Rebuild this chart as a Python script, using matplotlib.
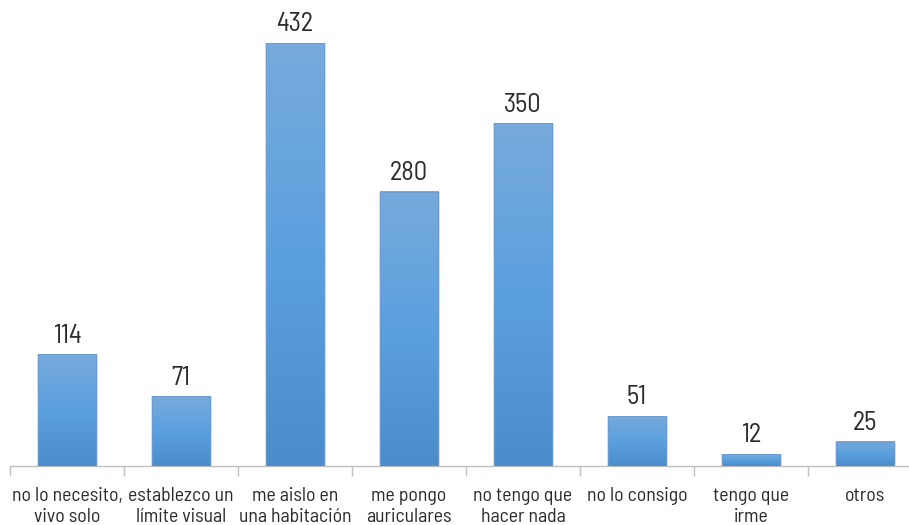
import matplotlib
matplotlib.use("Agg")
import matplotlib.pyplot as plt
import numpy as np
from matplotlib.colors import LinearSegmentedColormap
from matplotlib import font_manager

categories = [
    "no lo necesito,\nvivo solo",
    "establezco un\nlímite visual",
    "me aislo en\nuna habitación",
    "me pongo\nauriculares",
    "no tengo que\nhacer nada",
    "no lo consigo",
    "tengo que\nirme",
    "otros",
]
values = [114, 71, 432, 280, 350, 51, 12, 25]

# narrow DIN-like sans, first one installed wins
candidates = ["Bahnschrift", "Barlow Semi Condensed", "Roboto Condensed",
              "Saira Semi Condensed", "Archivo Narrow", "Liberation Sans Narrow"]
installed = {f.name for f in font_manager.fontManager.ttflist}
chosen = [c for c in candidates if c in installed]
plt.rcParams["font.family"] = chosen[:1] + ["DejaVu Sans"]

fig = plt.figure(figsize=(9.09, 5.25), dpi=100)
# plot area runs slightly past the right edge of the canvas
ax = fig.add_axes([10 / 909, 59 / 525, 912 / 909, 466 / 525])

x = np.arange(len(categories))
width = 0.51
ax.set_xlim(-0.5, len(categories) - 0.5)
ax.set_ylim(0, 476)

# vertical gradient: lighter top, brighter middle, darker bottom
grad_cmap = LinearSegmentedColormap.from_list(
    "bar_grad", ["#4b8dcb", "#5ba0df", "#77aadc"])
grad = np.linspace(0, 1, 256).reshape(-1, 1)

bars = ax.bar(x, values, width=width, color="none", edgecolor="none", zorder=3)
for b, v in zip(bars, values):
    x0, w, h = b.get_x(), b.get_width(), b.get_height()
    # soft shadow around the bar
    ax.bar(x0 + w / 2 + 0.006, h, width=w + 0.02, bottom=0, color="#cfcfcf",
           edgecolor="none", zorder=2, alpha=0.7)
    ax.imshow(grad, cmap=grad_cmap, origin="lower", aspect="auto",
              extent=(x0, x0 + w, 0, h), zorder=3, interpolation="bilinear")
    ax.add_patch(plt.Rectangle((x0, 0), w, h, fill=False,
                               edgecolor="#6a9bd0", lw=0.6, zorder=4))
    ax.text(x0 + w / 2, h + 7, str(v), ha="center", va="bottom",
            fontsize=19, color="#2b2b2b", zorder=5)

for s in ["top", "right", "left"]:
    ax.spines[s].set_visible(False)
ax.spines["bottom"].set_color("#bfbfbf")
ax.spines["bottom"].set_linewidth(1.0)
ax.set_yticks([])

ax.set_xticks(np.arange(-0.5, len(categories), 1.0))
ax.set_xticklabels([])
ax.tick_params(axis="x", which="major", length=7, color="#bfbfbf", width=1.0)
ax.set_xticks(x, minor=True)
ax.set_xticklabels(categories, minor=True, fontsize=14.2, color="#2b2b2b",
                   linespacing=1.2)
ax.tick_params(axis="x", which="minor", length=0, pad=15)

fig.savefig("out.png", dpi=100, facecolor="white")
